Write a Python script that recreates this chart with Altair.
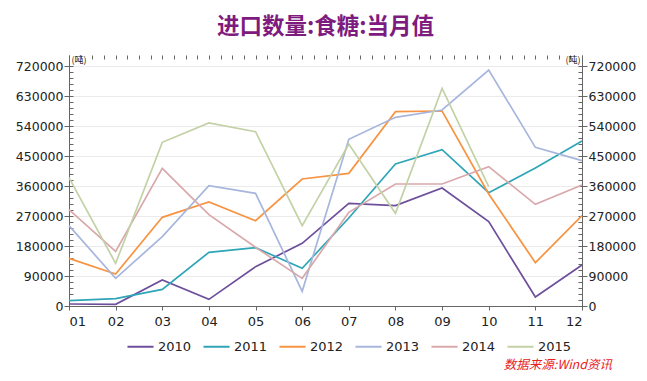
import altair as alt
import pandas as pd

months = list(range(1, 13))
years = ["2010", "2011", "2012", "2013", "2014", "2015"]
v2010 = [6000, 5000, 78000, 20000, 118000, 188000, 308000, 301000, 354000, 253000, 27000, 123000]
v2011 = [16000, 22000, 50000, 161000, 175000, 113000, 264000, 426000, 469000, 340000, 414000, 495000]
v2012 = [143000, 96000, 266000, 312000, 256000, 381000, 398000, 583000, 585000, 336000, 130000, 271000]
v2013 = [241000, 83000, 208000, 361000, 338000, 44000, 500000, 566000, 588000, 708000, 476000, 436000]
v2014 = [289000, 164000, 413000, 274000, 176000, 83000, 281000, 366000, 366000, 418000, 305000, 363000]
v2015 = [385000, 128000, 491000, 549000, 523000, 241000, 486000, 278000, 653000, 358000, None, None]
colors = ["#6E4F9C", "#2FA5B8", "#F79443", "#A7B6DC", "#D9A8AB", "#C3D1A6"]

title_text = "进口数量:食糖:当月值"
unit_text = "(吨)"
source_text = "数据来源:Wind资讯"

major_y = list(range(0, 720001, 90000))
minor_y = list(range(0, 720001, 18000))
minor_x = [1 + i * 0.25 for i in range(45)]

rows = []
for yr, vals in zip(years, [v2010, v2011, v2012, v2013, v2014, v2015]):
    for m, v in zip(months, vals):
        if v is not None:
            rows.append({"month": m, "value": v, "year": yr})
df = pd.DataFrame(rows)

FONT = "DejaVu Sans"
AXC = "#666666"
xscale = alt.Scale(domain=[1, 12], nice=False, zero=False)
yscale = alt.Scale(domain=[0, 753000], nice=False)

base = alt.Chart(df)

lines = base.mark_line(strokeWidth=1.7).encode(
    x=alt.X("month:Q", scale=xscale, axis=alt.Axis(
        values=months, labelExpr="datum.value < 10 ? '0' + datum.value : '' + datum.value",
        tickSize=4, tickColor=AXC, domainColor=AXC, labelFont=FONT, labelFontSize=13,
        labelColor="#222", labelPadding=5, grid=False, title=None)),
    y=alt.Y("value:Q", scale=yscale, axis=alt.Axis(
        values=major_y, format="d", orient="left", tickSize=5, tickColor=AXC, domainColor=AXC,
        labelFont=FONT, labelFontSize=12.5, labelColor="#222", labelPadding=1,
        grid=True, gridColor="#EBEBEB", title=unit_text, titleAngle=0, titleX=2, titleY=0,
        titleAlign="left", titleBaseline="top", titleFont="Noto Sans CJK SC",
        titleFontSize=9, titleFontWeight="normal", titleColor="#222")),
    color=alt.Color("year:N", scale=alt.Scale(domain=years, range=colors), legend=alt.Legend(
        title=None, orient="none", legendX=57, legendY=277, direction="horizontal",
        symbolType="stroke", symbolSize=680, symbolStrokeWidth=2, labelFont=FONT,
        labelFontSize=13, labelColor="#222", labelOffset=3, columnPadding=7, padding=0)),
)

inv1 = base.mark_line(opacity=0).encode(
    x=alt.X("month:Q", scale=xscale, axis=alt.Axis(
        values=minor_x, offset=-4, tickSize=4, tickColor=AXC, domain=False,
        labels=False, grid=False, title=None)),
    y=alt.Y("value:Q", scale=yscale, axis=alt.Axis(
        values=major_y, format="d", orient="right", tickSize=5, tickColor=AXC, domainColor=AXC,
        labelFont=FONT, labelFontSize=12.5, labelColor="#222", labelPadding=1,
        grid=False, title=unit_text, titleAngle=0, titleX=-2, titleY=0,
        titleAlign="right", titleBaseline="top", titleFont="Noto Sans CJK SC",
        titleFontSize=9, titleFontWeight="normal", titleColor="#222")),
)

inv2 = base.mark_line(opacity=0).encode(
    x=alt.X("month:Q", scale=xscale, axis=None),
    y=alt.Y("value:Q", scale=yscale, axis=alt.Axis(
        values=minor_y, orient="left", offset=-4, tickSize=4, tickColor=AXC,
        domain=False, labels=False, grid=False, title=None)),
)

inv3 = base.mark_line(opacity=0).encode(
    x=alt.X("month:Q", scale=xscale, axis=None),
    y=alt.Y("value:Q", scale=yscale, axis=alt.Axis(
        values=minor_y, orient="right", offset=-4, tickSize=4, tickColor=AXC,
        domain=False, labels=False, grid=False, title=None)),
)

src = alt.Chart(pd.DataFrame({"t": [source_text]})).mark_text(
    align="right", baseline="middle", fontStyle="italic", fontSize=12.5,
    font="Noto Sans CJK SC", color="#E8231F").encode(
    text="t:N", x=alt.value(543), y=alt.value(310))

chart = alt.layer(lines, inv1, inv2, inv3, src).resolve_axis(
    x="independent", y="independent").properties(
    width=513, height=251,
    autosize=alt.AutoSizeParams(type="none"),
    padding={"left": 61, "top": 47, "right": 57, "bottom": 67},
    title=alt.TitleParams(title_text, fontSize=22.5, fontWeight="bold", color="#7D1B7E",
                          font="Noto Sans CJK SC", anchor="middle", offset=16),
    background="white",
).configure_view(stroke=None)

chart.save("out.html", embed_options={"renderer": "svg", "actions": False})
